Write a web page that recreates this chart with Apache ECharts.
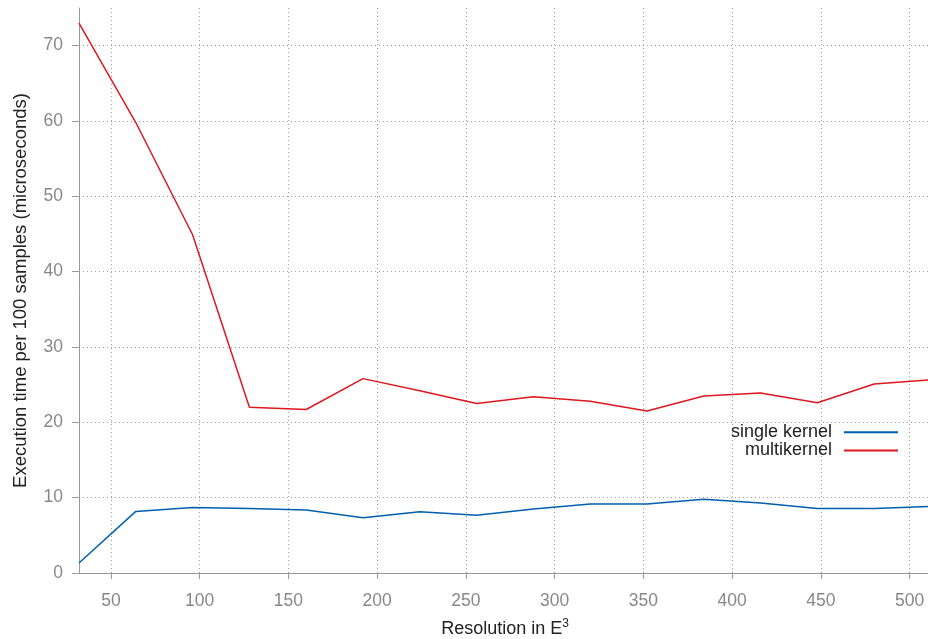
<!DOCTYPE html>
<html>
<head>
<meta charset="utf-8">
<script src="https://cdn.jsdelivr.net/npm/echarts@6/dist/echarts.min.js"></script>
<style>
html,body{margin:0;padding:0;background:#fff;}
#chart{width:928px;height:639px;}
</style>
</head>
<body>
<div id="chart"></div>
<script>
const resolutions = [32, 64, 96, 128, 160, 192, 224, 256, 288, 320, 352, 384, 416, 448, 480, 512];
const singleKernel = [1.33, 8.18, 8.7, 8.57, 8.36, 7.34, 8.13, 7.65, 8.5, 9.15, 9.15, 9.8, 9.29, 8.57, 8.57, 8.85];
const multiKernel = [73.0, 59.8, 44.9, 22.0, 21.7, 25.8, 24.2, 22.5, 23.4, 22.8, 21.5, 23.5, 23.9, 22.6, 25.1, 25.65];
const xTicks = [50, 100, 150, 200, 250, 300, 350, 400, 450, 500];
const yTicks = [0, 10, 20, 30, 40, 50, 60, 70];
const seriesNames = ['single kernel', 'multikernel'];

const toPairs = (ys) => resolutions.map((x, i) => [x, ys[i]]);

const chart = echarts.init(document.getElementById('chart'), null, {renderer: 'canvas'});
const fontFamily = 'Liberation Sans, Arial, sans-serif';
const gridLine = {show: true, lineStyle: {color: '#a0a0a0', type: [1, 3], width: 1}};

chart.setOption({
  animation: false,
  backgroundColor: '#ffffff',
  grid: {left: 79, right: -3, top: 8, bottom: 66, containLabel: false, outerBoundsMode: 'none'},
  legend: {
    orient: 'vertical',
    right: 30,
    top: 423,
    padding: 0,
    align: 'right',
    icon: 'rect',
    itemWidth: 54,
    itemHeight: 2,
    itemGap: 0,
    data: seriesNames,
    textStyle: {color: '#222', fontSize: 18, lineHeight: 18.3, fontFamily: fontFamily, padding: [0, 7, 0, 0]}
  },
  xAxis: {
    type: 'value',
    min: 32,
    max: 512,
    name: 'Resolution in E{sup|3}',
    nameLocation: 'middle',
    nameGap: 45,
    nameTextStyle: {color: '#222', fontSize: 18, fontFamily: fontFamily,
      rich: {sup: {fontSize: 12, verticalAlign: 'top', color: '#222', fontFamily: fontFamily, padding: [0, 0, 10, 0]}}},
    axisLine: {show: true, onZero: false, lineStyle: {color: '#999', width: 1}},
    axisTick: {show: true, inside: false, length: 6, customValues: xTicks, lineStyle: {color: '#999'}},
    axisLabel: {show: true, customValues: xTicks, margin: 19, color: '#888', fontSize: 17.5, fontFamily: fontFamily},
    splitLine: gridLine
  },
  yAxis: {
    type: 'value',
    min: 0,
    max: 75,
    name: 'Execution time per 100 samples (microseconds)',
    nameLocation: 'middle',
    nameGap: 49,
    nameTextStyle: {color: '#222', fontSize: 18.5, fontFamily: fontFamily},
    axisLine: {show: true, lineStyle: {color: '#999', width: 1}},
    axisTick: {show: true, inside: false, length: 7, customValues: yTicks, lineStyle: {color: '#999'}},
    axisLabel: {show: true, customValues: yTicks, margin: 16, color: '#888', fontSize: 17.5, fontFamily: fontFamily},
    splitLine: gridLine
  },
  series: [
    {
      name: seriesNames[0], type: 'line', data: toPairs(singleKernel),
      showSymbol: false, symbol: 'none',
      lineStyle: {color: '#0060ad', width: 1.5}, itemStyle: {color: '#0060ad'}
    },
    {
      name: seriesNames[1], type: 'line', data: toPairs(multiKernel),
      showSymbol: false, symbol: 'none',
      lineStyle: {color: '#dd181f', width: 1.5}, itemStyle: {color: '#dd181f'}
    }
  ]
});
</script>
</body>
</html>
